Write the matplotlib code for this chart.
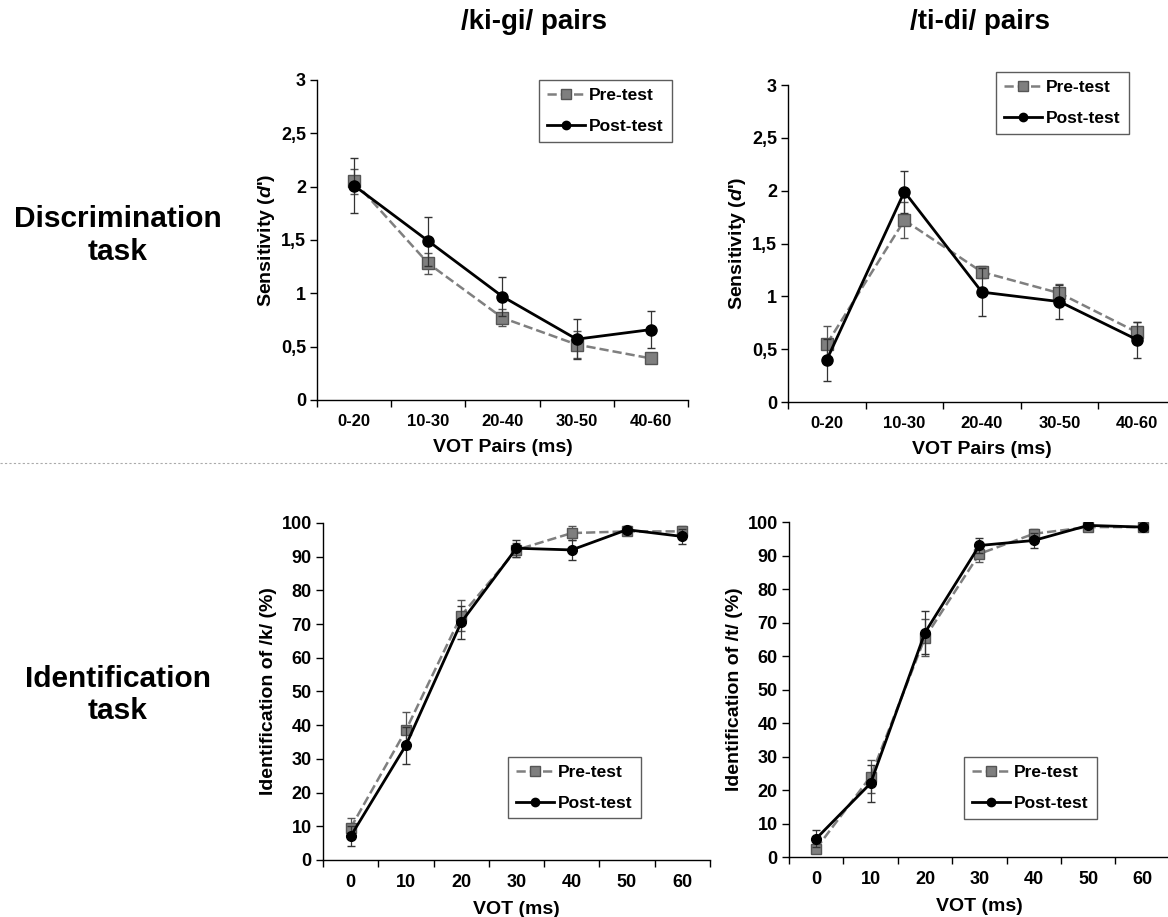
import matplotlib
matplotlib.use("Agg")
import matplotlib.pyplot as plt
from matplotlib.lines import Line2D
import numpy as np

plt.rcParams['font.family'] = ['Liberation Sans', 'DejaVu Sans']
plt.rcParams['font.weight'] = 'bold'
plt.rcParams['mathtext.fontset'] = 'custom'
plt.rcParams['mathtext.it'] = 'Liberation Sans:italic:bold'
plt.rcParams['mathtext.rm'] = 'Liberation Sans:bold'

# discrimination task
pairs = ["0-20", "10-30", "20-40", "30-50", "40-60"]
ki_pre = [2.05, 1.28, 0.77, 0.52, 0.39]
ki_pre_err = [0.12, 0.10, 0.08, 0.13, 0.02]
ki_post = [2.01, 1.49, 0.97, 0.57, 0.66]
ki_post_err = [0.26, 0.23, 0.18, 0.19, 0.17]
ti_pre = [0.55, 1.72, 1.23, 1.03, 0.66]
ti_pre_err = [0.17, 0.17, 0.06, 0.09, 0.10]
ti_post = [0.40, 1.99, 1.04, 0.95, 0.59]
ti_post_err = [0.20, 0.20, 0.23, 0.16, 0.17]

# identification task
vot = ["0", "10", "20", "30", "40", "50", "60"]
k_pre = [9.5, 38.5, 72.5, 92.0, 97.0, 97.5, 97.5]
k_pre_err = [3.0, 5.5, 4.7, 2.0, 2.0, 1.0, 1.5]
k_post = [7.0, 34.0, 70.5, 92.5, 92.0, 98.0, 96.0]
k_post_err = [3.0, 5.5, 5.0, 2.5, 3.0, 1.0, 2.2]
t_pre = [2.5, 24.0, 65.5, 90.5, 96.5, 98.5, 98.5]
t_pre_err = [1.0, 5.0, 5.5, 2.5, 1.5, 0.5, 0.5]
t_post = [5.5, 22.0, 67.0, 93.0, 94.5, 99.0, 98.5]
t_post_err = [2.5, 5.5, 6.3, 2.3, 2.2, 0.5, 0.5]

PRE_C = '#7f7f7f'


def draw(ax, cats, pre, pre_err, post, post_err, ylim, yticks, yticklabels,
         xlabel, ylabel, legend_loc, sq=9, dot=8, xfs=12, yfs=13):
    x = np.arange(len(cats))
    ax.errorbar(x, pre, yerr=pre_err, color=PRE_C, ls='--', lw=1.8,
                marker='s', ms=sq, mfc=PRE_C, mec='#555555',
                ecolor='#555555', elinewidth=0.9, capsize=3, zorder=2)
    ax.errorbar(x, post, yerr=post_err, color='black', ls='-', lw=2,
                marker='o', ms=dot, ecolor='#333333', elinewidth=0.9,
                capsize=3, zorder=3)
    ax.set_xlim(-0.5, len(cats) - 0.5)
    ax.set_ylim(*ylim)
    ax.set_yticks(yticks)
    ax.set_yticklabels(yticklabels, fontsize=yfs, fontweight='bold')
    ax.set_xticks(x)
    ax.set_xticklabels(cats, fontsize=xfs, fontweight='bold')
    ax.set_xticks(np.arange(len(cats) + 1) - 0.5, minor=True)
    ax.tick_params(axis='x', which='major', length=0, pad=10)
    ax.tick_params(axis='x', which='minor', length=5, width=1, direction='out')
    ax.tick_params(axis='y', length=5, width=1, direction='out', pad=3)
    for s in ['top', 'right']:
        ax.spines[s].set_visible(False)
    for s in ['left', 'bottom']:
        ax.spines[s].set_linewidth(1)
    ax.set_xlabel(xlabel, fontsize=14, fontweight='bold', labelpad=7)
    ax.set_ylabel(ylabel, fontsize=14, fontweight='bold', labelpad=3)

    handles = [
        Line2D([], [], color=PRE_C, ls='--', lw=1.8, marker='s', ms=7,
               mfc=PRE_C, mec='#555555'),
        Line2D([], [], color='black', ls='-', lw=2, marker='o', ms=6),
    ]
    leg = ax.legend(handles, ['Pre-test', 'Post-test'], loc='upper left',
                    bbox_to_anchor=legend_loc, borderaxespad=0,
                    frameon=True, fancybox=False,
                    edgecolor='#333333', handlelength=2.2, handletextpad=0.25,
                    borderpad=0.45, labelspacing=0.9,
                    prop={'size': 12.5, 'weight': 'bold'})
    leg.get_frame().set_linewidth(1)


fig = plt.figure(figsize=(11.68, 9.17), dpi=100)

d_ticks = [0, 0.5, 1, 1.5, 2, 2.5, 3]
d_labels = ["0", "0,5", "1", "1,5", "2", "2,5", "3"]
p_ticks = list(range(0, 101, 10))
p_labels = [str(v) for v in p_ticks]

ax1 = fig.add_axes([0.2714, 0.5638, 0.3176, 0.349])
draw(ax1, pairs, ki_pre, ki_pre_err, ki_post, ki_post_err, (0, 3),
     d_ticks, d_labels, "VOT Pairs (ms)", "Sensitivity ($d$')", (0.598, 1.0))

ax2 = fig.add_axes([0.6747, 0.5616, 0.332, 0.3457])
draw(ax2, pairs, ti_pre, ti_pre_err, ti_post, ti_post_err, (0, 3),
     d_ticks, d_labels, "VOT Pairs (ms)", "Sensitivity ($d$')", (0.536, 1.041))

ax3 = fig.add_axes([0.2765, 0.0622, 0.3313, 0.3675])
draw(ax3, vot, k_pre, k_pre_err, k_post, k_post_err, (0, 100),
     p_ticks, p_labels, "VOT (ms)", "Identification of /k/ (%)", (0.478, 0.306),
     sq=7.5, dot=7, xfs=13)

ax4 = fig.add_axes([0.6755, 0.0654, 0.326, 0.3653])
draw(ax4, vot, t_pre, t_pre_err, t_post, t_post_err, (0, 100),
     p_ticks, p_labels, "VOT (ms)", "Identification of /t/ (%)", (0.459, 0.2985),
     sq=7.5, dot=7, xfs=13)

fig.text(0.457, 0.976, "/ki-gi/ pairs", ha='center', va='center',
         fontsize=20, fontweight='bold')
fig.text(0.839, 0.976, "/ti-di/ pairs", ha='center', va='center',
         fontsize=20, fontweight='bold')
fig.text(0.101, 0.743, "Discrimination\ntask", ha='center', va='center',
         fontsize=21.5, fontweight='bold', linespacing=1.2)
fig.text(0.101, 0.242, "Identification\ntask", ha='center', va='center',
         fontsize=21.5, fontweight='bold', linespacing=1.2)

fig.add_artist(Line2D([0, 1], [1 - 463 / 917, 1 - 463 / 917],
                      transform=fig.transFigure, color='#aaaaaa',
                      lw=0.8, ls=(0, (2, 2))))

fig.savefig("out.png", dpi=100)
